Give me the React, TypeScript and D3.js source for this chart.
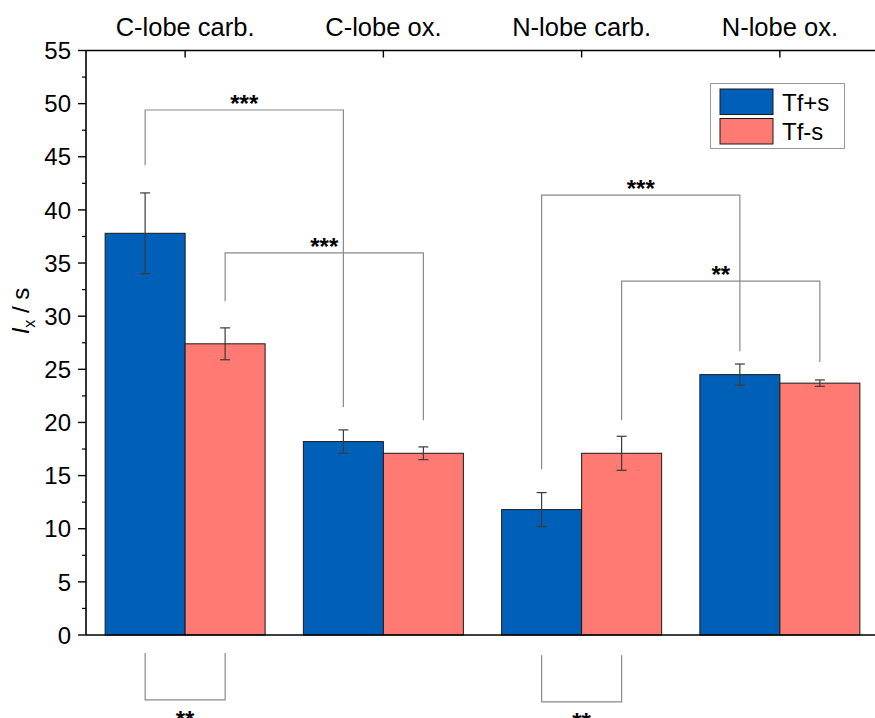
import React from 'react';
import * as d3 from 'd3';

const categories = ['C-lobe carb.', 'C-lobe ox.', 'N-lobe carb.', 'N-lobe ox.'];
const seriesNames = ['Tf+s', 'Tf-s'];
const tfPlus = [37.8, 18.2, 11.8, 24.5];
const tfPlusErr = [3.8, 1.1, 1.6, 1.0];
const tfMinus = [27.4, 17.1, 17.1, 23.7];
const tfMinusErr = [1.5, 0.6, 1.6, 0.3];
const yTicks = [0, 5, 10, 15, 20, 25, 30, 35, 40, 45, 50, 55];
const colors = ['#0060B8', '#FF7A72'];

// brackets: [cat1, series1, leg1 bottom, top, cat2, series2, leg2 bottom, label]
const bracketCat1 = [0, 0, 2, 2];
const bracketSer1 = [0, 1, 0, 1];
const bracketLeg1 = [44.2, 31.4, 15.6, 20.2];
const bracketTop = [49.4, 35.95, 41.4, 33.3];
const bracketCat2 = [1, 1, 3, 3];
const bracketSer2 = [0, 1, 0, 1];
const bracketLeg2 = [21.45, 20.2, 26.7, 25.7];
const bracketLabels = ['***', '***', '***', '**'];

// bottom brackets (within a category, Tf+s vs Tf-s)
const lowCats = [0, 2];
const lowLegTop = [-1.7, -1.9];
const lowBottom = [-6.1, -6.3];
const lowLabels = ['**', '**'];

export default function App() {
  const W = 875, H = 718;
  const left = 86, right = 879, top = 50.5, bottom = 635;
  const y = d3.scaleLinear().domain([0, 55]).range([bottom, top]);
  const x0 = d3.scaleBand<string>().domain(categories).range([left, right]);
  const barGroup = 160;
  const x1 = d3.scaleBand<string>().domain(seriesNames).range([0, barGroup]);
  const center = (ci: number) => (x0(categories[ci]) as number) + x0.bandwidth() / 2;
  const barX = (ci: number, si: number) => center(ci) - barGroup / 2 + (x1(seriesNames[si]) as number);
  const barCx = (ci: number, si: number) => barX(ci, si) + x1.bandwidth() / 2;
  const values = [tfPlus, tfMinus];
  const errs = [tfPlusErr, tfMinusErr];
  const minorTicks = d3.range(2.5, 55, 5);
  const font = '"Liberation Sans", Arial, sans-serif';
  const bracketColor = '#8a8a8a';

  return (
    <svg width={W} height={H} style={{ position: 'absolute', left: 0, top: 0, background: '#fff' }} fontFamily={font}>
      {/* bars */}
      {values.map((vals, si) =>
        vals.map((v, ci) => (
          <rect key={`b${si}-${ci}`} x={barX(ci, si)} y={y(v)} width={x1.bandwidth()} height={y(0) - y(v)}
            fill={colors[si]} stroke="#1a1a1a" strokeWidth={1} />
        ))
      )}
      {/* error bars */}
      {values.map((vals, si) =>
        vals.map((v, ci) => {
          const cx = barCx(ci, si);
          const e = errs[si][ci];
          return (
            <g key={`e${si}-${ci}`} stroke="#3a3a3a" strokeWidth={1.2}>
              <line x1={cx} x2={cx} y1={y(v + e)} y2={y(v - e)} />
              <line x1={cx - 5} x2={cx + 5} y1={y(v + e)} y2={y(v + e)} />
              <line x1={cx - 5} x2={cx + 5} y1={y(v - e)} y2={y(v - e)} />
            </g>
          );
        })
      )}
      {/* brackets */}
      {bracketLabels.map((lab, i) => {
        const xa = barCx(bracketCat1[i], bracketSer1[i]);
        const xb = barCx(bracketCat2[i], bracketSer2[i]);
        const yt = y(bracketTop[i]);
        return (
          <g key={`br${i}`}>
            <path d={`M${xa},${y(bracketLeg1[i])}V${yt}H${xb}V${y(bracketLeg2[i])}`} fill="none" stroke={bracketColor} strokeWidth={1.2} />
            <text x={(xa + xb) / 2} y={yt + 2} textAnchor="middle" fontSize={24} fontWeight="bold" fill="#000">{lab}</text>
          </g>
        );
      })}
      {lowLabels.map((lab, i) => {
        const xa = barCx(lowCats[i], 0);
        const xb = barCx(lowCats[i], 1);
        const yb = y(lowBottom[i]);
        return (
          <g key={`lb${i}`}>
            <path d={`M${xa},${y(lowLegTop[i])}V${yb}H${xb}V${y(lowLegTop[i])}`} fill="none" stroke={bracketColor} strokeWidth={1.2} />
            <text x={(xa + xb) / 2} y={yb + 28} textAnchor="middle" fontSize={24} fontWeight="bold" fill="#000">{lab}</text>
          </g>
        );
      })}
      {/* axes */}
      <line x1={left} x2={W} y1={bottom} y2={bottom} stroke="#000" strokeWidth={1.6} />
      <line x1={left} x2={W} y1={top} y2={top} stroke="#000" strokeWidth={1.6} />
      <line x1={left} x2={left} y1={top} y2={bottom} stroke="#000" strokeWidth={1.6} />
      {yTicks.map(t => (
        <g key={`yt${t}`}>
          <line x1={left - 8} x2={left} y1={y(t)} y2={y(t)} stroke="#000" strokeWidth={1.4} />
          <text x={left - 15} y={y(t)} dy="0.36em" textAnchor="end" fontSize={24} fill="#000">{t}</text>
        </g>
      ))}
      {minorTicks.map(t => (
        <line key={`mt${t}`} x1={left - 4} x2={left} y1={y(t)} y2={y(t)} stroke="#000" strokeWidth={1.2} />
      ))}
      {categories.map((c, ci) => (
        <g key={`c${ci}`}>
          <line x1={center(ci)} x2={center(ci)} y1={top} y2={top + 7} stroke="#000" strokeWidth={1.4} />
          <text x={center(ci)} y={top - 15} textAnchor="middle" fontSize={25.5} fill="#000">{c}</text>
        </g>
      ))}
      {/* y label */}
      <text transform={`translate(29, 311) rotate(-90)`} textAnchor="middle" fontSize={24} fill="#000">
        <tspan fontStyle="italic">I</tspan>
        <tspan fontSize={16} dy={6}>x</tspan>
        <tspan dy={-6}> / s</tspan>
      </text>
      {/* legend */}
      <rect x={710.5} y={83.5} width={134} height={65} fill="#fff" stroke="#9a9a9a" strokeWidth={1} />
      {seriesNames.map((s, si) => (
        <g key={`lg${si}`}>
          <rect x={720} y={89 + si * 29.5} width={53} height={25.5} fill={colors[si]} stroke="#1a1a1a" strokeWidth={1} />
          <text x={782} y={102 + si * 29.5} dy="0.36em" fontSize={24} fill="#000">{s}</text>
        </g>
      ))}
    </svg>
  );
}
